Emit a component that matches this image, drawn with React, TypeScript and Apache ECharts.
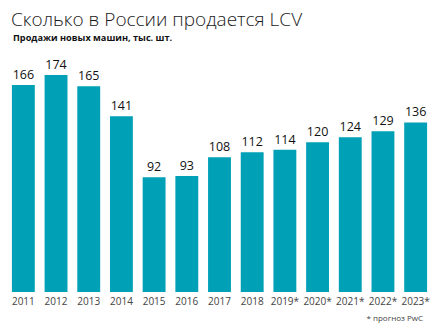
import React, { useEffect, useRef } from "react";
import * as echarts from "echarts";

const categories = ["2011", "2012", "2013", "2014", "2015", "2016", "2017", "2018", "2019*", "2020*", "2021*", "2022*", "2023*"];
const sales = [166, 174, 165, 141, 92, 93, 108, 112, 114, 120, 124, 129, 136];
const titleText = "Сколько в России продается LCV";
const subtitleText = "Продажи новых машин, тыс. шт.";
const footnoteText = "* прогноз PwC";

export default function App() {
  const ref = useRef<HTMLDivElement>(null);
  useEffect(() => {
    if (!ref.current) return;
    const chart = echarts.init(ref.current, null, { renderer: "svg" });
    chart.setOption({
      animation: false,
      backgroundColor: "#ffffff",
      textStyle: { fontFamily: "Open Sans" },
      title: [
        {
          text: titleText,
          left: 6,
          top: 4,
          textStyle: { fontSize: 19, fontWeight: 300, color: "#1a1a1a", fontFamily: "Open Sans" },
        },
        {
          text: subtitleText,
          left: 8,
          top: 28,
          textStyle: { fontSize: 9.2, fontWeight: "bold", color: "#111", fontFamily: "Open Sans" },
        },
        {
          text: footnoteText,
          right: 18,
          top: 308,
          textStyle: { fontSize: 8, fontWeight: "normal", color: "#444", fontFamily: "Open Sans" },
        },
      ],
      grid: { left: 7, right: 14, top: 42.6, bottom: 35, containLabel: false },
      xAxis: {
        type: "category",
        data: categories,
        axisLine: { show: false },
        axisTick: { show: false },
        axisLabel: { color: "#444", fontSize: 10, margin: 4, interval: 0, fontFamily: "Open Sans" },
      },
      yAxis: {
        type: "value",
        min: 0,
        max: 200,
        show: false,
        splitLine: { show: false },
      },
      series: [
        {
          type: "bar",
          data: sales,
          barWidth: "70%",
          itemStyle: { color: "#00a1b7" },
          label: {
            show: true,
            position: "top",
            distance: 4,
            color: "#111",
            fontSize: 12.5,
            fontWeight: "normal",
            fontFamily: "Open Sans",
          },
        },
      ],
    });
    return () => chart.dispose();
  }, []);
  return <div ref={ref} style={{ width: 446, height: 327, position: "absolute", left: 0, top: 0 }} />;
}
